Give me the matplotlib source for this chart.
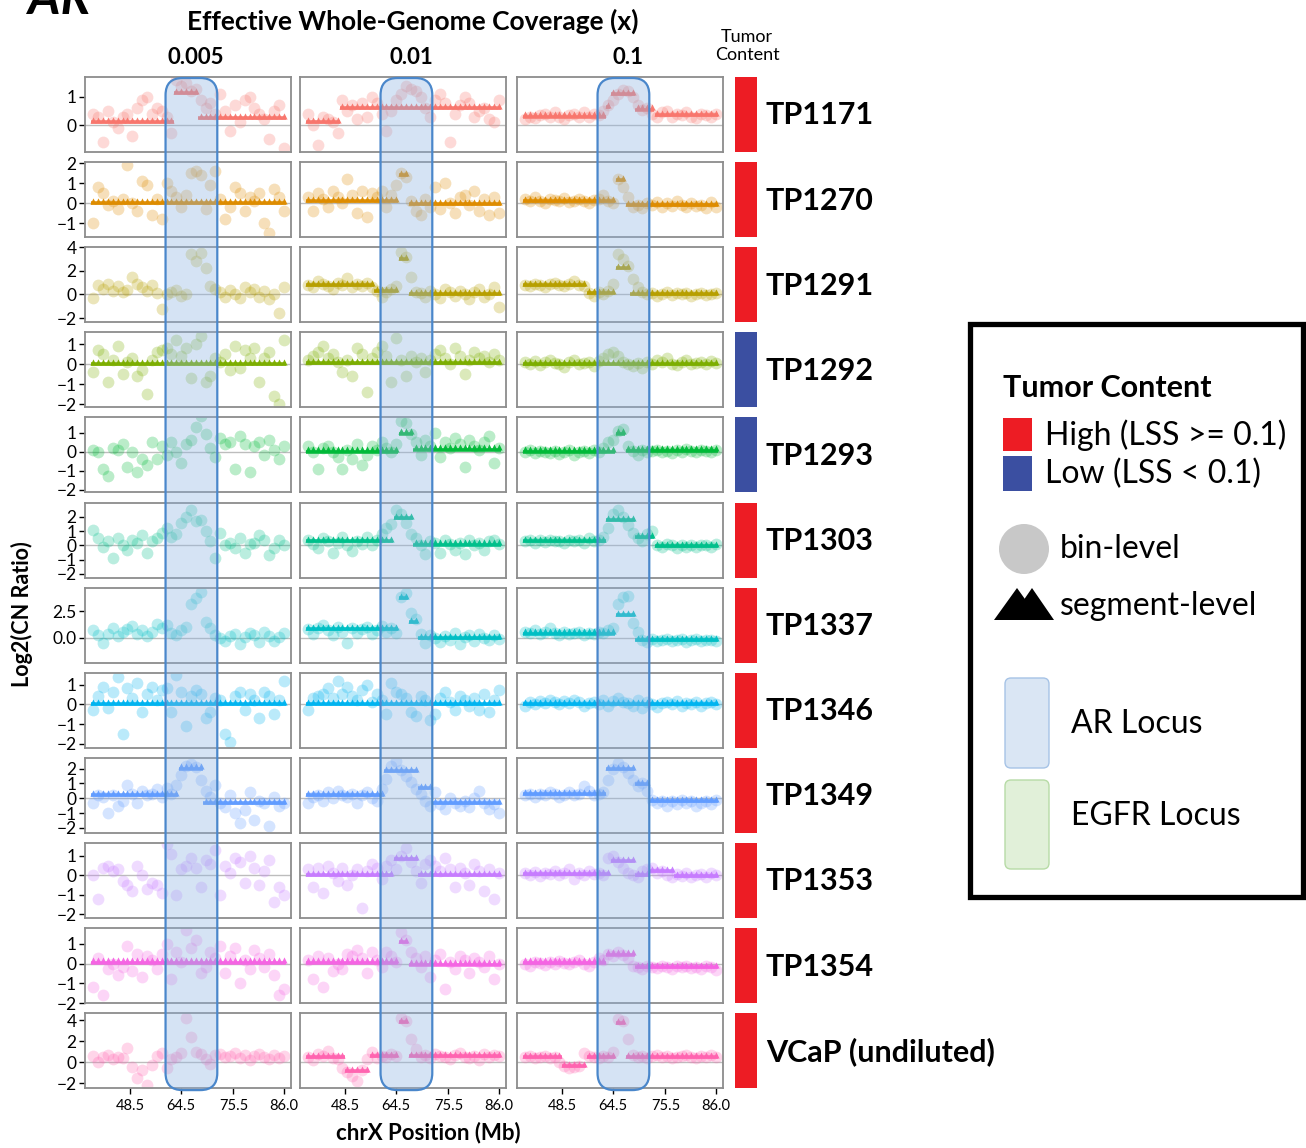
import numpy as np
import matplotlib
matplotlib.use('Agg')
import matplotlib.pyplot as plt
import matplotlib.transforms as mtransforms
from matplotlib.patches import FancyBboxPatch, Rectangle, Ellipse, Polygon

plt.rcParams['font.family'] = ['Lato', 'DejaVu Sans']

# ---------------- data ----------------
SAMPLES = ['TP1171', 'TP1270', 'TP1291', 'TP1292', 'TP1293', 'TP1303',
           'TP1337', 'TP1346', 'TP1349', 'TP1353', 'TP1354', 'VCaP (undiluted)']
COVERAGES = ['0.005', '0.01', '0.1']
TUMOR_CONTENT = ['High', 'High', 'High', 'Low', 'Low', 'High',
                 'High', 'High', 'High', 'High', 'High', 'High']
ROW_COLORS = ['#F8766D', '#DE8C00', '#B79F00', '#7CAE00', '#00BA38', '#00C08B',
              '#00BFC4', '#00B4F0', '#619CFF', '#C77CFF', '#F564E3', '#FF64B0']
Y_TICKS = [[0, 1], [-1, 0, 1, 2], [-2, 0, 2, 4], [-2, -1, 0, 1], [-2, -1, 0, 1],
           [-2, -1, 0, 1, 2], [0.0, 2.5], [-2, -1, 0, 1], [-2, -1, 0, 1, 2],
           [-2, -1, 0, 1], [-2, -1, 0, 1], [-2, 0, 2, 4]]
Y_LIMITS = [(-0.96, 1.71), (-1.7, 2.05), (-2.35, 4.0), (-2.15, 1.6), (-2.15, 1.8),
            (-2.25, 3.0), (-2.3, 4.7), (-2.2, 1.6), (-2.33, 2.73), (-2.2, 1.67),
            (-2.0, 1.8), (-2.48, 4.67)]
X_TICK_POS = [7.6, 18.0, 28.7, 39.0]          # bin index of the labelled positions
X_TICK_LABELS = ['48.5', '64.5', '75.5', '86.0']
AR_LOCUS = (14.8, 25.4)                        # AR locus in bin index units

# bin-level log2 ratios (one list per coverage: 0.005, 0.01, 0.1)
TP1171_BINS = [
    [0.4,0.3,-0.6,0.5,0.1,-0.1,0.3,0.4,-0.4,0.6,0.9,1.0,0.4,0.6,0.5,0.3,-0.3,1.6,1.4,1.5,
     1.2,1.3,0.9,0.6,0.8,0.4,1.1,0.5,-0.2,0.7,0.1,0.9,1.0,0.6,0.4,0.2,-0.5,0.5,0.7,-0.8],
    [0.4,0.0,-0.7,0.3,0.2,0.1,-0.3,0.9,0.5,0.7,0.2,0.8,0.3,1.0,0.8,0.4,-0.2,0.5,0.9,1.1,
     1.4,1.3,1.2,1.0,0.6,0.3,0.9,1.1,0.8,-0.6,0.4,0.7,1.0,0.8,0.3,0.5,0.6,0.2,0.1,0.9],
    [0.2,0.3,0.25,0.35,0.4,0.3,0.45,0.3,0.2,0.35,0.4,0.3,0.45,0.3,0.4,0.35,0.5,0.7,0.9,1.1,
     1.25,1.2,1.0,0.7,0.55,0.6,0.4,0.3,0.45,0.5,0.3,0.4,0.35,0.45,0.3,0.25,0.4,0.35,0.3,0.4]]
TP1270_BINS = [
    [-1.0,0.8,0.5,-0.1,0.1,-0.3,0.2,1.9,0.0,-0.4,1.1,0.9,-0.6,0.2,-0.8,1.0,0.6,0.3,-0.2,0.4,
     1.5,1.6,1.4,-0.3,0.9,1.6,0.2,-0.8,-0.2,0.8,0.5,-0.4,0.3,0.1,0.5,-1.0,-1.5,0.7,0.3,-0.4],
    [0.3,-0.4,0.5,0.2,-0.2,0.6,0.3,0.0,1.2,0.4,-0.5,0.6,-0.7,0.5,0.3,0.6,-0.2,0.4,0.9,1.5,
     1.3,0.1,-0.4,-0.6,0.2,-0.2,0.8,-0.3,1.0,0.0,-0.5,0.3,0.4,-0.1,0.6,-0.4,0.2,-0.6,0.3,-0.5],
    [0.2,0.1,0.3,0.1,0.0,0.2,0.15,0.1,0.25,0.05,0.1,0.2,0.1,0.0,0.15,0.2,0.4,0.1,0.0,1.2,
     0.8,0.3,-0.2,-0.1,-0.25,0.0,-0.1,0.05,-0.2,0.0,-0.15,0.1,-0.1,-0.2,0.0,-0.15,-0.1,-0.25,0.05,-0.2]]
TP1291_BINS = [
    [-0.3,0.8,0.5,0.9,0.3,0.7,0.2,0.4,1.5,0.9,0.6,0.3,0.8,0.1,-1.2,0.0,0.2,0.4,-0.1,0.0,
     3.4,2.8,3.5,2.2,0.7,0.5,0.2,-0.2,0.4,0.0,-0.3,0.6,0.2,0.5,-0.2,0.3,-0.4,0.0,-1.6,0.6],
    [0.8,0.6,1.1,0.9,0.7,0.5,1.0,0.8,1.4,0.6,0.9,0.7,1.0,0.6,0.3,-0.2,0.2,0.5,0.7,3.6,
     3.2,1.5,0.2,0.1,-0.2,0.3,0.0,-0.3,0.5,0.2,-0.1,0.3,0.0,-0.4,0.2,0.5,-0.2,0.0,0.6,-1.1],
    [0.8,0.7,0.9,0.8,0.6,0.9,1.0,0.8,0.7,0.9,1.1,0.8,0.7,0.1,-0.1,0.2,0.0,0.3,0.9,3.4,
     3.0,2.4,1.3,0.6,0.2,0.0,0.1,-0.1,0.05,0.2,-0.05,0.1,0.0,0.15,-0.1,0.05,0.1,-0.05,0.0,0.1]]
TP1292_BINS = [
    [-0.4,0.7,0.5,-0.9,0.2,0.9,-0.5,0.1,0.3,-0.6,-0.3,-1.5,0.2,0.6,0.7,0.8,0.5,1.2,0.4,0.8,
     -0.7,1.0,1.4,-0.9,-0.6,0.3,0.1,0.5,-0.3,0.9,-0.2,0.7,0.3,0.8,-0.9,0.3,0.6,-1.6,-2.0,1.2],
    [0.2,0.4,0.6,0.9,0.3,0.5,0.1,-0.4,0.2,-0.6,0.8,0.5,-1.4,0.3,0.6,0.9,0.4,-0.9,1.3,0.2,
     -0.6,0.4,0.1,0.3,-0.4,0.2,0.5,0.7,0.3,0.0,0.8,0.4,-0.5,0.2,0.6,0.3,0.4,0.1,0.5,0.2],
    [0.1,0.0,0.15,-0.05,0.1,0.2,0.05,0.0,-0.15,0.1,0.2,0.0,0.05,0.1,-0.1,0.15,0.3,0.5,0.6,0.4,
     0.1,0.0,-0.1,0.05,-0.2,0.1,0.0,0.2,0.1,0.3,0.0,-0.05,0.1,0.2,0.0,0.05,0.1,0.0,0.15,0.05]]
TP1293_BINS = [
    [0.1,0.0,-0.9,-1.3,0.2,0.1,0.4,-0.8,0.0,-1.1,-0.4,-0.7,0.5,-0.4,0.3,-0.2,0.5,0.0,-0.6,0.4,
     0.6,1.3,1.9,0.9,0.2,-0.3,0.7,0.4,0.5,-0.9,0.8,0.4,-1.1,0.3,0.5,-0.2,0.6,0.1,-0.4,0.3],
    [0.3,0.0,-0.9,0.2,0.3,0.0,-0.3,-0.9,0.1,-0.4,0.4,-0.7,-0.2,0.3,0.1,0.5,0.2,0.0,0.4,1.6,
     1.5,0.9,0.5,-0.2,0.6,0.3,1.0,-0.3,0.5,0.2,0.7,0.4,-0.8,0.6,0.3,0.1,0.5,0.8,-0.6,0.2],
    [0.0,0.1,-0.05,0.05,0.0,-0.1,0.05,-0.15,0.0,0.1,-0.2,0.0,0.05,-0.1,0.1,0.0,0.2,0.5,0.6,1.1,
     1.2,0.3,0.05,-0.2,0.1,0.0,0.05,0.1,0.0,0.05,-0.05,0.1,0.0,0.15,0.05,0.0,0.1,0.05,0.0,0.1]]
TP1303_BINS = [
    [1.1,0.5,-0.1,0.3,-0.9,0.5,0.0,-0.3,0.4,0.2,0.7,-0.5,0.3,0.5,0.9,1.2,0.6,0.8,1.6,2.0,
     2.5,1.7,1.8,1.0,0.3,-0.9,0.9,0.0,0.2,-0.2,0.5,-0.5,0.1,0.2,0.7,0.4,-0.7,-0.2,0.4,0.0],
    [0.4,0.1,-0.2,0.5,0.3,-0.5,0.2,0.6,0.0,-0.4,0.3,0.1,0.6,0.0,0.4,0.8,1.2,1.5,2.5,2.2,
     1.6,0.8,0.5,0.0,-0.6,0.3,0.2,-0.5,0.4,0.1,-0.3,0.2,-0.6,0.4,0.0,0.2,-0.3,0.3,0.4,0.1],
    [0.3,0.4,0.2,0.35,0.25,0.4,0.3,0.3,0.2,0.35,0.3,0.4,0.2,0.5,0.3,0.35,0.6,1.2,2.2,2.5,
     2.0,1.4,0.9,0.5,0.3,0.8,1.0,0.0,-0.1,0.1,0.0,-0.15,0.05,-0.1,0.0,-0.1,0.05,0.0,-0.1,0.1]]
TP1337_BINS = [
    [0.7,0.3,-0.5,0.4,0.9,0.2,0.6,0.8,1.1,0.4,0.7,0.2,0.6,1.3,0.9,1.2,0.5,0.3,0.7,1.0,
     3.2,3.7,4.3,1.5,0.9,0.3,0.0,-0.3,0.2,0.4,-0.6,0.1,0.5,0.3,-0.4,0.6,0.2,-0.3,0.1,0.5],
    [0.8,0.4,0.9,1.2,0.7,0.3,1.0,0.6,-0.5,0.9,0.5,0.8,1.0,0.4,0.7,1.1,0.6,0.9,0.5,3.8,
     4.2,2.3,1.8,0.4,-0.5,0.3,0.0,-0.4,0.2,-0.2,0.5,-0.6,0.1,0.3,-0.3,0.4,0.0,-0.2,0.3,-0.1],
    [0.6,0.5,0.7,0.4,0.6,0.9,0.5,0.3,0.6,0.4,0.5,0.6,0.3,0.5,0.4,0.6,0.5,0.7,0.9,3.2,
     3.8,3.9,1.4,0.6,-0.2,-0.4,-0.1,-0.3,-0.2,-0.1,-0.3,-0.2,-0.1,-0.4,-0.2,-0.1,-0.3,-0.2,-0.15,-0.25]]
TP1346_BINS = [
    [-0.3,0.4,0.9,-0.2,0.6,1.4,-1.5,0.8,0.3,1.1,-0.4,0.5,0.9,0.2,0.7,0.8,-0.4,1.5,0.6,-1.1,
     0.4,0.7,0.5,-0.7,-0.4,0.3,0.2,-1.5,-1.9,0.4,0.6,-0.3,0.5,0.2,-0.7,0.6,0.4,-0.5,0.2,1.2],
    [-0.3,0.3,0.4,0.5,0.8,0.3,1.2,0.5,0.9,0.4,0.2,0.7,1.0,0.1,0.5,0.2,-0.5,1.1,0.6,0.5,
     0.3,-0.4,-0.6,0.4,0.2,-0.8,-0.5,0.3,0.6,0.1,-0.3,0.4,0.2,-0.1,0.3,-0.3,0.5,-0.4,0.2,0.7],
    [-0.1,0.1,0.0,0.15,0.05,0.2,0.1,0.0,0.15,0.05,0.2,0.1,-0.1,0.05,0.1,0.0,0.2,-0.1,0.15,0.3,
     0.1,0.05,-0.1,0.2,-0.2,0.1,0.0,-0.15,0.05,0.1,0.0,0.15,-0.1,0.05,0.0,0.1,-0.1,0.05,0.1,0.0]]
TP1349_BINS = [
    [-0.3,0.2,0.1,-1.0,0.2,-0.5,-0.2,0.9,0.3,-0.3,0.5,0.2,0.3,0.6,0.1,0.7,0.3,0.9,1.6,2.2,
     2.3,2.1,1.2,0.5,0.1,0.9,-0.3,-0.6,0.2,-1.0,-1.7,-0.8,0.4,-1.5,-0.2,-0.3,-1.9,0.1,-0.5,-0.3],
    [-0.3,0.1,0.2,-0.2,0.4,0.0,0.5,0.2,0.1,0.3,-0.3,0.2,0.4,0.0,-0.2,0.6,1.3,2.2,2.5,1.9,
     1.5,1.1,0.6,0.3,-0.2,-0.5,0.4,-0.4,-0.7,0.0,-0.3,-0.5,-0.2,-0.6,0.0,0.5,-0.3,-0.7,-0.4,-1.0],
    [0.2,0.3,0.1,0.3,0.2,0.4,0.3,0.1,0.2,0.4,0.2,0.3,0.8,0.5,0.2,0.3,0.4,1.2,2.0,2.4,
     2.1,1.7,1.2,0.8,1.0,0.5,-0.1,-0.3,-0.2,-0.5,-0.2,-0.4,-0.1,-0.3,-0.2,-0.5,-0.3,-0.2,-0.4,-0.1]]
TP1353_BINS = [
    [0.0,-1.2,0.4,0.5,0.2,0.3,-0.3,-0.5,-0.8,0.5,0.0,-0.7,-0.4,-0.5,-0.9,1.6,1.1,-1.0,0.3,0.5,
     0.9,0.4,-0.6,0.8,0.6,1.3,-1.0,0.5,0.1,0.9,0.7,-0.4,1.0,0.4,-0.5,0.2,0.8,-1.4,-0.6,-1.0],
    [0.3,-0.6,0.4,-0.9,0.5,0.1,-0.3,0.4,-0.5,0.0,0.3,-1.7,0.2,0.6,0.4,-0.2,0.5,0.8,0.3,1.0,
     1.4,0.7,0.2,-0.4,0.6,0.8,0.5,0.2,0.9,0.3,-0.6,0.4,0.1,-0.5,0.6,0.2,-0.8,0.3,-1.2,0.1],
    [0.1,0.0,0.15,-0.05,0.1,0.05,0.2,0.0,0.1,0.3,-0.2,0.1,0.0,0.2,0.05,0.1,0.0,0.9,1.0,0.7,
     0.4,0.1,0.0,-0.1,0.2,0.3,0.35,0.1,0.2,0.0,-0.1,0.05,-0.05,0.1,-0.1,0.0,0.05,-0.1,0.1,0.0]]
TP1354_BINS = [
    [-1.2,0.3,-1.6,-0.3,0.0,-0.6,-0.2,0.9,-0.4,0.5,-0.7,0.4,0.2,-0.3,0.5,1.0,-0.8,0.6,0.1,1.7,
     0.8,1.2,-0.5,-0.2,0.6,0.3,0.9,-0.5,0.4,0.8,-1.0,0.2,-0.3,0.7,0.3,-0.2,0.5,-0.6,-1.6,-1.3],
    [0.2,-0.8,0.4,-1.2,0.3,-0.4,0.0,-0.3,0.5,0.4,0.7,0.3,-0.5,0.6,0.2,-0.2,0.6,0.4,0.1,1.6,
     1.2,0.6,0.3,-0.2,0.4,-0.7,0.2,0.5,-1.3,0.1,-0.3,0.4,0.2,-0.5,0.3,0.1,-0.2,0.4,-0.8,0.0],
    [0.0,-0.1,0.1,0.05,-0.05,0.1,0.0,0.15,0.05,0.0,0.1,0.2,0.0,-0.1,0.1,0.3,0.2,0.5,0.4,0.6,
     0.45,0.3,-0.1,-0.2,-0.3,-0.15,-0.2,-0.25,-0.1,-0.2,-0.3,-0.15,-0.2,-0.1,-0.25,-0.2,-0.3,-0.15,-0.2,-0.35]]
VCAP_BINS = [
    [0.6,0.0,0.5,0.7,0.3,0.5,0.4,1.3,-0.5,-1.5,-0.8,-2.2,-0.3,0.6,0.9,-0.6,0.3,0.5,0.9,4.2,
     2.4,1.0,0.8,0.3,-0.2,0.7,0.8,0.5,0.6,0.9,0.4,0.7,0.2,0.6,0.8,0.5,0.3,0.7,0.4,0.6],
    [0.5,0.2,0.8,0.6,1.1,0.4,0.3,-0.6,-0.9,-1.3,-1.8,-0.8,0.3,1.0,0.4,0.6,0.5,0.8,0.6,4.2,
     3.9,2.2,1.2,0.5,0.7,0.4,0.8,0.6,0.5,0.3,0.7,0.9,0.5,0.4,0.6,0.2,0.8,0.5,0.7,0.6],
    [0.5,0.6,0.4,0.5,0.6,0.4,0.5,0.0,-0.4,-0.6,-0.5,-0.4,0.9,0.6,0.5,0.4,0.6,0.5,1.0,4.1,
     3.9,2.2,0.7,0.5,0.6,0.4,0.6,0.7,0.5,0.6,0.4,0.5,0.6,0.7,0.5,0.4,0.6,0.5,0.7,0.5]]

# segment-level calls: (first bin, last bin, log2 ratio)
TP1171_SEGS = [[(0, 16, 0.1), (17, 21, 1.15), (22, 39, 0.25)],
               [(0, 6, 0.1), (7, 39, 0.6)],
               [(0, 16, 0.3), (17, 17, 0.65), (18, 22, 1.1), (23, 26, 0.55), (27, 39, 0.35)]]
TP1270_SEGS = [[(0, 39, 0.0)],
               [(0, 18, 0.1), (19, 20, 1.4), (21, 39, -0.05)],
               [(0, 18, 0.1), (19, 20, 1.15), (21, 39, -0.1)]]
TP1291_SEGS = [[],
               [(0, 13, 0.8), (14, 18, 0.25), (19, 20, 3.0), (21, 39, 0.05)],
               [(0, 12, 0.8), (13, 18, 0.1), (19, 21, 2.2), (22, 39, 0.05)]]
TP1292_SEGS = [[(0, 39, 0.0)], [(0, 39, 0.05)], [(0, 39, 0.0)]]
TP1293_SEGS = [[],
               [(0, 18, 0.0), (19, 21, 0.95), (22, 39, 0.1)],
               [(0, 18, 0.0), (19, 20, 0.95), (21, 39, 0.05)]]
TP1303_SEGS = [[],
               [(0, 17, 0.3), (18, 21, 1.9), (22, 39, 0.05)],
               [(0, 16, 0.3), (17, 22, 1.75), (23, 26, 0.6), (27, 39, -0.05)]]
TP1337_SEGS = [[],
               [(0, 18, 0.8), (19, 20, 3.7), (21, 22, 1.5), (23, 39, -0.05)],
               [(0, 18, 0.4), (19, 22, 2.1), (23, 39, -0.2)]]
TP1346_SEGS = [[(0, 39, 0.0)], [(0, 39, 0.0)], [(0, 39, 0.0)]]
TP1349_SEGS = [[(0, 17, 0.2), (18, 22, 2.0), (23, 39, -0.3)],
               [(0, 15, 0.2), (16, 22, 1.85), (23, 25, 0.7), (26, 39, -0.3)],
               [(0, 16, 0.3), (17, 22, 1.95), (23, 25, 0.95), (26, 39, -0.2)]]
TP1353_SEGS = [[],
               [(0, 17, 0.0), (18, 22, 0.85), (23, 39, 0.0)],
               [(0, 17, 0.05), (18, 22, 0.75), (23, 25, 0.0), (26, 30, 0.2), (31, 39, -0.05)]]
TP1354_SEGS = [[(0, 39, 0.05)],
               [(0, 18, 0.05), (19, 20, 1.1), (21, 39, -0.05)],
               [(0, 16, 0.05), (17, 22, 0.45), (23, 39, -0.2)]]
VCAP_SEGS = [[],
             [(0, 7, 0.5), (8, 12, -0.85), (13, 18, 0.55), (19, 20, 3.8), (21, 39, 0.6)],
             [(0, 7, 0.5), (8, 12, -0.35), (13, 18, 0.5), (19, 20, 3.7), (21, 39, 0.5)]]

ALL_BINS = [TP1171_BINS, TP1270_BINS, TP1291_BINS, TP1292_BINS, TP1293_BINS, TP1303_BINS,
            TP1337_BINS, TP1346_BINS, TP1349_BINS, TP1353_BINS, TP1354_BINS, VCAP_BINS]
ALL_SEGS = [TP1171_SEGS, TP1270_SEGS, TP1291_SEGS, TP1292_SEGS, TP1293_SEGS, TP1303_SEGS,
            TP1337_SEGS, TP1346_SEGS, TP1349_SEGS, TP1353_SEGS, TP1354_SEGS, VCAP_SEGS]

TC_COLORS = {'High': '#ED1C24', 'Low': '#3B4FA1'}

# ---------------- layout ----------------
W, H = 1306, 1148
fig = plt.figure(figsize=(W / 100, H / 100), dpi=100)

COL_LEFT = [85, 300, 517]
PANEL_W = 206
ROW_TOP0 = 77
ROW_PITCH = 85.1
PANEL_H = 75
XLIM = (-1.7, 40.5)


def fmt_tick(t, ticks):
    if all(float(v).is_integer() for v in ticks) and not isinstance(ticks[0], float):
        s = f"{int(t)}"
    else:
        s = f"{t:.1f}"
    return s.replace('-', '\u2212')


axes = []
for r in range(len(SAMPLES)):
    top = ROW_TOP0 + r * ROW_PITCH
    row_axes = []
    for c in range(3):
        ax = fig.add_axes([COL_LEFT[c] / W, 1 - (top + PANEL_H) / H, PANEL_W / W, PANEL_H / H])
        color = ROW_COLORS[r]
        vals = ALL_BINS[r][c]
        ax.axhline(0, color='#BDBDBD', lw=1.0, zorder=1)
        ax.scatter(np.arange(len(vals)), vals, s=72, color=color, alpha=0.27,
                   linewidths=0, zorder=2)
        tri_tr = mtransforms.offset_copy(ax.transData, fig=fig, x=0, y=2.2, units='dots')
        for (s0, s1, v) in ALL_SEGS[r][c]:
            xs = np.arange(s0, s1 + 1)
            ax.hlines(v, s0 - 0.45, s1 + 0.45, color=color, lw=2.6, alpha=0.95, zorder=3)
            ax.scatter(xs, np.full(len(xs), v), marker='^', s=20, color=color,
                       alpha=0.95, linewidths=0, zorder=3, transform=tri_tr)
        ax.set_xlim(*XLIM)
        ax.set_ylim(*Y_LIMITS[r])
        for sp in ax.spines.values():
            sp.set_color('#8C8C8C')
            sp.set_linewidth(1.3)
        if c == 0:
            ax.set_yticks(Y_TICKS[r])
            ax.set_yticklabels([fmt_tick(t, Y_TICKS[r]) for t in Y_TICKS[r]], fontsize=12.5)
            ax.tick_params(axis='y', length=4, width=1, color='black', pad=2)
        else:
            ax.set_yticks([])
        if r == len(SAMPLES) - 1:
            ax.set_xticks(X_TICK_POS)
            ax.set_xticklabels(X_TICK_LABELS, fontsize=10.5)
            ax.tick_params(axis='x', length=4, width=1, color='black', pad=4)
        else:
            ax.set_xticks([])
        row_axes.append(ax)
    axes.append(row_axes)

# overlay axes in pixel coordinates
ov = fig.add_axes([0, 0, 1, 1], zorder=10)
ov.set_xlim(0, W)
ov.set_ylim(H, 0)
ov.axis('off')
ov.patch.set_alpha(0)

# AR locus bands
for c in range(3):
    ax_top = axes[0][c]
    ax_bot = axes[-1][c]
    xd = ax_top.transData.transform([(AR_LOCUS[0], 0), (AR_LOCUS[1], 0)])[:, 0]
    y_top = H * (1 - ax_top.get_position().y1) + 1
    y_bot = H * (1 - ax_bot.get_position().y0) + 2
    band = FancyBboxPatch((xd[0], y_top), xd[1] - xd[0], y_bot - y_top,
                          boxstyle='round,pad=0,rounding_size=17',
                          facecolor=(0.553, 0.706, 0.886, 0.36),
                          edgecolor='#4A87CB', linewidth=1.6)
    ov.add_patch(band)

# tumour content bars + sample labels
for r, name in enumerate(SAMPLES):
    top = ROW_TOP0 + r * ROW_PITCH
    ov.add_patch(Rectangle((735, top), 22, PANEL_H, facecolor=TC_COLORS[TUMOR_CONTENT[r]],
                           edgecolor='none'))
    ov.text(766, top + PANEL_H / 2 + 1, name, fontsize=22, fontweight='bold',
            ha='left', va='center')

# headers
ov.text(413, 21, 'Effective Whole-Genome Coverage (x)', fontsize=19, fontweight='bold',
        ha='center', va='center')
for c, lab in enumerate(COVERAGES):
    ov.text(COL_LEFT[c] + PANEL_W / 2 + 8, 58, lab, fontsize=16, fontweight='bold',
            ha='center', va='center')
ov.text(747, 46, 'Tumor\nContent', fontsize=13, ha='center', va='center',
        linespacing=1.1)
ov.text(28, 14, 'AR', fontsize=36, fontweight='bold', fontstyle='italic',
        ha='left', va='baseline')
ov.text(22, 614, 'Log2(CN Ratio)', fontsize=15.5, fontweight='bold', rotation=90,
        ha='center', va='center')
ov.text(428, 1133, 'chrX Position (Mb)', fontsize=16, fontweight='bold',
        ha='center', va='center')

# legend box
ov.add_patch(Rectangle((970, 324), 333, 573, facecolor='white', edgecolor='black',
                       linewidth=3.8))
ov.text(1003, 388, 'Tumor Content', fontsize=22, fontweight='bold', ha='left', va='center')
ov.add_patch(Rectangle((1003, 418), 29, 33, facecolor=TC_COLORS['High'], edgecolor='none'))
ov.add_patch(Rectangle((1003, 456), 29, 35, facecolor=TC_COLORS['Low'], edgecolor='none'))
ov.text(1045, 435, 'High (LSS >= 0.1)', fontsize=23, ha='left', va='center')
ov.text(1045, 474, 'Low (LSS < 0.1)', fontsize=23, ha='left', va='center')
ov.add_patch(Ellipse((1024, 549), 50, 50, facecolor='#C8C8C8', edgecolor='none'))
ov.text(1060, 549, 'bin-level', fontsize=23, ha='left', va='center')
ov.add_patch(Polygon([(994, 620), (1017, 588), (1040, 620)], closed=True,
                     facecolor='black', edgecolor='none'))
ov.add_patch(Polygon([(1010, 620), (1032, 588), (1054, 620)], closed=True,
                     facecolor='black', edgecolor='none'))
ov.text(1060, 606, 'segment-level', fontsize=23, ha='left', va='center')
ov.add_patch(FancyBboxPatch((1005, 678), 44, 90, boxstyle='round,pad=0,rounding_size=6',
                            facecolor='#DAE6F4', edgecolor='#A6C3E6', linewidth=1))
ov.text(1071, 724, 'AR Locus', fontsize=23, ha='left', va='center')
ov.add_patch(FancyBboxPatch((1005, 780), 44, 89, boxstyle='round,pad=0,rounding_size=6',
                            facecolor='#E1F0D9', edgecolor='#B7DBA6', linewidth=1))
ov.text(1071, 816, 'EGFR Locus', fontsize=23, ha='left', va='center')

fig.savefig('out.png', dpi=100)
